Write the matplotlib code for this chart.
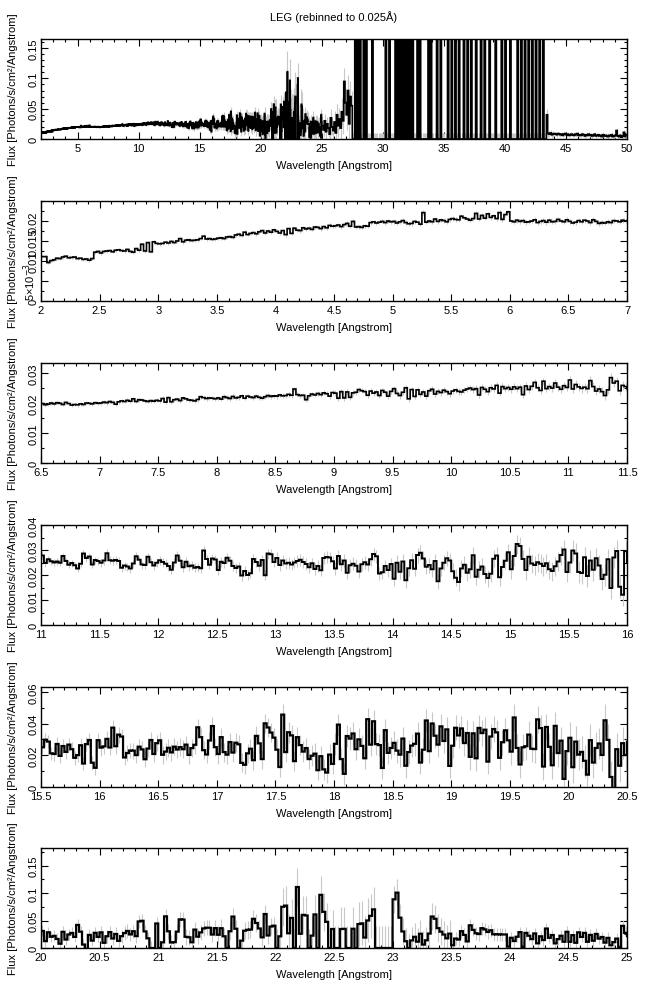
import numpy as np
import matplotlib
matplotlib.use('Agg')
import matplotlib.pyplot as plt
from matplotlib.ticker import MultipleLocator, FormatStrFormatter

plt.rcParams['font.family'] = ['Liberation Sans', 'DejaVu Sans']

# LEG flux, 0.025 A bins, units of 1e-3 photons/s/cm2/A
seg_a = [  # 2.0 - 6.5 A
    11.1, 11.1, 9.6, 10.1, 10.3, 10.7, 10.6, 11.0, 11.2, 10.8, 10.9, 11.0, 10.6, 10.7, 10.4, 10.5, 10.2, 10.6, 12.2, 12.4,
    12.0, 12.4, 12.5, 12.6, 12.3, 12.7, 12.8, 12.6, 12.5, 12.9, 12.4, 12.2, 13.1, 12.7, 14.2, 12.5, 14.6, 12.3, 14.8, 14.4,
    14.3, 14.4, 14.7, 14.5, 14.9, 14.6, 15.0, 15.6, 14.8, 15.2, 15.3, 15.1, 15.2, 15.3, 15.6, 16.2, 15.5, 15.6, 15.4, 15.5,
    15.7, 15.8, 15.6, 16.0, 16.1, 15.9, 16.5, 16.7, 16.4, 17.2, 16.6, 16.9, 17.1, 16.8, 17.3, 17.6, 17.0, 17.5, 17.2, 17.8,
    17.4, 17.0, 17.6, 16.6, 18.1, 16.9, 18.2, 17.7, 17.6, 18.3, 18.0, 18.2, 17.9, 18.5, 18.4, 18.1, 18.6, 18.3, 18.9, 18.7,
    18.8, 19.0, 18.6, 19.1, 19.4, 18.7, 19.9, 18.5, 18.6, 18.4, 18.8, 18.7, 19.6, 19.8, 19.5, 19.7, 19.9, 19.6, 20.0, 19.8,
    19.9, 19.5, 19.8, 20.1, 19.6, 19.3, 19.4, 19.9, 19.7, 19.2, 22.1, 19.7, 20.0, 19.8, 20.5, 19.9, 20.3, 20.1, 19.8, 20.4,
    20.6, 20.4, 20.3, 21.2, 20.8, 20.5, 20.2, 20.6, 21.9, 20.5, 21.4, 20.7, 21.8, 20.9, 21.3, 20.6, 22.1, 20.4, 21.6, 22.3,
    20.0, 19.8, 20.2, 19.9, 20.1, 19.7, 19.8, 20.0, 20.3, 19.6, 19.9, 20.1, 19.7, 20.2, 19.8, 19.9, 20.4, 20.0, 19.8, 20.3,
]
seg_b = [  # 6.5 - 11.0 A
    19.9, 19.5, 19.7, 20.1, 19.8, 20.2, 20.0, 19.6, 20.3, 19.9, 19.4, 19.6, 19.5, 19.8, 19.6, 20.1, 20.0, 19.8, 20.2, 20.0,
    20.1, 20.4, 20.2, 20.6, 20.3, 19.7, 20.5, 20.8, 20.6, 21.0, 20.7, 21.5, 20.6, 21.2, 21.1, 20.8, 20.6, 20.9, 20.7, 21.0,
    20.8, 21.6, 20.4, 21.9, 20.5, 21.2, 21.4, 20.9, 21.8, 21.5, 21.1, 21.0, 20.8, 21.3, 22.2, 21.9, 21.6, 21.8, 21.7, 21.5,
    21.8, 21.4, 22.2, 21.9, 21.6, 22.3, 21.8, 22.0, 22.5, 21.7, 22.4, 22.1, 21.9, 22.4, 22.0, 21.7, 22.2, 22.6, 22.3, 22.5,
    22.4, 22.8, 22.5, 22.6, 23.0, 22.7, 24.8, 22.9, 22.6, 22.7, 21.2, 22.5, 23.1, 22.8, 23.3, 22.9, 23.5, 23.2, 22.4, 23.6,
    23.4, 21.7, 23.9, 21.8, 23.8, 22.0, 23.5, 23.7, 24.6, 24.2, 23.9, 22.7, 24.1, 23.4, 23.8, 22.6, 24.3, 23.7, 22.4, 24.0,
    24.9, 23.3, 22.6, 23.7, 25.2, 21.5, 24.6, 22.3, 24.5, 23.0, 23.8, 22.4, 24.2, 24.7, 23.1, 24.0, 23.6, 24.4, 23.9, 23.2,
    24.1, 24.5, 24.0, 23.8, 24.4, 24.8, 25.1, 24.6, 24.9, 22.8, 25.3, 24.7, 23.9, 25.2, 24.8, 26.0, 23.4, 25.6, 24.9, 25.3,
    24.7, 25.5, 24.9, 25.4, 22.9, 25.8, 24.6, 25.7, 27.0, 25.2, 24.3, 27.4, 24.9, 25.6, 25.1, 26.8, 25.4, 24.7, 25.9, 25.3,
]
seg_c = [  # 11.0 - 15.5 A
    27.8, 24.8, 26.3, 25.5, 25.0, 25.4, 24.9, 27.6, 25.6, 24.1, 24.8, 23.9, 22.6, 24.5, 28.6, 26.8, 27.4, 24.2, 26.0, 25.6,
    24.9, 25.8, 28.7, 25.9, 25.7, 26.0, 25.6, 22.9, 23.8, 23.4, 22.6, 24.6, 27.5, 26.1, 24.2, 24.0, 27.3, 25.1, 23.8, 24.9,
    25.9, 25.2, 24.5, 23.6, 22.1, 25.0, 27.8, 25.7, 23.1, 25.3, 23.5, 23.8, 22.9, 23.2, 22.7, 29.8, 26.4, 24.1, 26.6, 26.2,
    22.0, 25.3, 24.8, 26.9, 25.7, 23.6, 22.8, 23.4, 19.8, 21.6, 20.0, 20.7, 26.4, 25.2, 23.7, 26.0, 19.9, 28.6, 28.3, 25.2,
    26.8, 24.0, 25.8, 24.6, 24.9, 24.2, 25.0, 25.6, 26.1, 25.2, 24.4, 23.1, 24.7, 22.4, 23.6, 21.9, 26.8, 27.2, 27.0, 25.5,
    22.6, 27.6, 24.3, 25.8, 20.9, 23.9, 24.5, 23.7, 21.4, 24.3, 25.1, 24.2, 26.3, 28.4, 27.5, 20.6, 21.1, 23.6, 22.0, 24.4,
    18.5, 24.9, 21.3, 25.4, 17.9, 22.7, 25.9, 22.5, 28.0, 28.9, 26.6, 23.3, 24.0, 22.3, 25.6, 17.5, 22.6, 24.9, 26.7, 25.8,
    21.5, 18.9, 17.2, 22.6, 24.1, 20.9, 22.3, 27.9, 19.3, 22.1, 23.4, 20.4, 18.8, 20.5, 26.5, 27.8, 19.1, 23.2, 25.7, 29.1,
    22.3, 27.6, 32.4, 31.6, 26.4, 22.0, 27.3, 24.6, 24.0, 25.1, 24.5, 23.6, 24.7, 22.3, 21.6, 23.5, 25.4, 28.0, 30.2, 21.2,
]
seg_d = [  # 15.5 - 20.0 A
    25.0, 29.8, 28.6, 21.2, 20.8, 27.1, 19.6, 25.8, 22.1, 26.7, 23.8, 18.4, 20.1, 26.3, 14.8, 27.0, 29.6, 15.3, 12.1, 29.5,
    24.8, 25.6, 30.3, 24.9, 37.4, 25.7, 33.0, 31.8, 18.6, 21.4, 23.0, 22.9, 20.1, 25.4, 23.7, 17.5, 24.2, 29.6, 20.8, 27.6,
    29.4, 20.3, 22.3, 24.7, 21.8, 25.4, 23.6, 25.1, 23.8, 26.7, 20.2, 24.5, 26.6, 37.6, 31.4, 23.2, 20.5, 29.3, 38.4, 25.1,
    20.8, 31.4, 22.0, 20.4, 28.3, 21.7, 27.9, 26.9, 15.2, 14.0, 21.2, 24.1, 16.9, 32.2, 27.5, 17.6, 40.1, 37.5, 34.3, 31.1,
    23.5, 12.6, 45.6, 22.0, 34.5, 32.5, 16.3, 31.4, 26.4, 22.3, 24.5, 17.6, 19.7, 21.0, 10.6, 19.4, 11.1, 9.1, 20.4, 14.6,
    27.2, 39.3, 17.6, 8.3, 32.1, 30.5, 33.7, 23.8, 30.0, 25.9, 18.1, 42.7, 26.7, 41.4, 27.0, 26.4, 12.0, 35.8, 21.5, 24.6,
    27.8, 22.9, 20.4, 30.5, 13.4, 22.0, 26.1, 27.2, 33.6, 15.4, 23.5, 41.9, 22.6, 40.0, 32.3, 26.7, 38.2, 29.0, 36.3, 13.3,
    26.0, 37.3, 32.5, 36.9, 27.7, 34.0, 19.0, 33.8, 18.1, 37.2, 34.0, 36.1, 16.0, 31.8, 36.5, 34.4, 18.4, 28.2, 35.7, 29.4,
    22.3, 43.8, 24.6, 14.2, 25.0, 25.7, 33.0, 24.1, 23.9, 42.6, 37.1, 12.9, 37.8, 25.3, 13.7, 38.5, 21.4, 29.2, 5.1, 22.6,
]
seg_e = [  # 20.0 - 25.0 A
    31.0, 12.5, 28.6, 20.4, 22.1, 16.5, 7.8, 29.5, 15.4, 24.6, 27.4, 20.2, 42.0, 29.7, 6.3, -2.5, 23.8, 13.4, 27.6, 20.1,
    28.5, 9.5, 21.4, 28.9, 17.3, 25.5, 13.0, 21.5, 27.2, 31.0, 24.7, 30.5, 21.6, 48.3, 49.5, 30.2, 17.6, 0.0, 0.0, 44.6,
    0.0, 10.3, 57.6, 30.4, 10.0, 10.6, 29.8, 52.1, 51.7, 20.3, 19.5, 10.4, 33.5, 20.6, 28.4, 35.6, 37.0, 36.8, 24.5, 36.2,
    24.1, 36.0, 21.3, 0.0, 30.5, 57.2, 35.0, 0.0, 13.4, 31.5, 33.2, 33.6, 53.1, 45.5, 35.5, 19.4, 61.8, 22.8, 39.0, 40.6,
    0.0, 21.3, 75.0, 77.2, 26.8, 54.7, 0.0, 111.0, 25.9, 60.3, 59.2, 0.0, 22.5, 61.1, 0.0, 96.7, 65.8, 47.6, 0.0, 34.6,
    0.0, 0.0, 34.5, 34.9, 0.0, 0.0, 35.0, 0.0, 43.6, 44.8, 19.0, 50.1, 58.5, 70.3, 0.0, 0.0, 0.0, 0.0, 0.0, 0.0,
    88.6, 100.7, 55.2, 30.1, 12.3, 0.0, 13.8, 20.4, 11.5, 25.9, 6.2, 14.0, 26.3, 57.3, 53.2, 36.1, 29.7, 24.5, 17.6, 26.1,
    5.0, 17.2, 15.4, 30.6, 23.8, 12.0, 41.3, 33.0, 26.8, 25.4, 36.1, 33.8, 29.2, 32.3, 25.0, 24.7, 25.0, 24.5, 24.7, 2.5,
    18.6, 12.7, 20.5, 28.9, 2.0, 27.5, 22.3, 16.2, 26.5, 8.5, 21.3, 14.5, 35.4, 18.5, 23.6, 8.4, 16.2, 22.3, 11.4, 29.5,
    11.3, 23.4, 9.5, 28.5, 20.2, 27.5, 11.3, 23.8, 13.2, 25.6, 17.1, 20.0, 9.8, 18.4, 5.0, 10.6, 17.1, 2.0, 40.3, 27.5,
]
# 25 - 50 A, only seen in the overview panel, 0.1 A steps (300 = off scale)
seg_long = [
    22, 15, 30, 12, 25, 18, 8, 35, 20, 14,
    28, 10, 40, 22, 33, 18, 45, 30, 95, 60,
    40, 80, 25, 70, 55,
    0, 0, 300, 0, 300, 0, 300, 0, 0, 300,
    0, 300, 0, 0, 0, 0, 300, 0, 0, 0,
    0, 0, 0, 0, 0, 0, 0, 300, 0, 0,
    300, 0, 0, 0, 0, 300, 0, 300, 0, 300,
    0, 300, 0, 300, 0, 300, 0, 300, 0, 300,
    0, 0, 0, 300, 0, 300, 0, 0, 0, 0,
    0, 0, 300, 0, 300, 0, 0, 0, 0, 300,
    0, 0, 300, 0, 0, 0, 0, 0, 300, 0,
    0, 300, 0, 0, 300, 0, 0, 300, 0, 0,
    0, 300, 0, 0, 300, 0, 0, 300, 0, 0,
    0, 300, 0, 0, 0, 300, 0, 0, 300, 0,
    0, 0, 300, 0, 0, 0, 0, 300, 0, 0,
    0, 0, 300, 0, 0, 300, 0, 0, 0, 300,
    0, 0, 0, 0, 0, 300, 0, 0, 300, 0,
    0, 300, 0, 0, 300, 0, 0, 300, 0, 0,
    300, 0, 0, 300, 0, 0, 300, 0, 0, 40,
    9, 8, 10, 7, 8, 9, 8, 7, 9, 8,
    7, 8, 6, 8, 9, 7, 8, 6, 7, 8,
    7, 6, 8, 7, 9, 6, 7, 6, 8, 7,
    5, 7, 6, 8, 6, 7, 5, 6, 8, 5,
    6, 7, 5, 6, 4, 7, 5, 6, 5, 4,
    6, 5, 7, 4, 5, 6, 14, 5, 4, 6,
    3, 5, 11, 4, 7,
]
# typical 1-sigma error per 0.5 A block from 2 to 50 A (1e-3 units)
err_block = [
    0.4, 0.4, 0.45, 0.45, 0.5, 0.5, 0.55, 0.55, 0.6, 0.6,
    0.65, 0.7, 0.75, 0.8, 0.9, 1.0, 1.1, 1.2, 1.4, 1.6,
    1.8, 2.0, 2.3, 2.6, 3.0, 3.4, 3.8, 4.3, 5.0, 5.5,
    6.0, 6.5, 7.0, 7.5, 8.0, 8.5, 10, 12, 14, 16,
    35, 40, 25, 12, 10, 10, 12, 14, 18, 22,
    25, 10, 10, 10, 10, 10, 10, 10, 10, 10,
    10, 10, 10, 10, 10, 10, 10, 10, 10, 10,
    10, 10, 10, 10, 10, 10, 10, 10, 10, 10,
    10, 10, 10, 5, 3, 3, 3, 3, 3, 3,
    3, 3, 4, 4, 4, 4,
]

flux = np.array(seg_a + seg_b + seg_c + seg_d + seg_e) * 1e-3
edges = 2.0 + 0.025 * np.arange(flux.size + 1)
flux_long = np.array(seg_long) * 1e-3
edges_long = 25.0 + 0.1 * np.arange(flux_long.size + 1)

all_flux = np.concatenate([flux, flux_long])
all_edges = np.concatenate([edges, edges_long[1:]])
centers = 0.5 * (all_edges[:-1] + all_edges[1:])
err = np.array(err_block)[((centers - 2.0) / 0.5).astype(int)] * 1e-3

# panel setup: x range, y max, x major/minor, y ticks, y minor, line width
panels = [
    ((2, 50), 0.165, 5, 1, [0, 0.05, 0.1, 0.15], 0.01, 1.2),
    ((2, 7), 0.025, 0.5, 0.1, [0, 0.005, 0.01, 0.015, 0.02], 0.0025, 1.2),
    ((6.5, 11.5), 0.0335, 0.5, 0.1, [0, 0.01, 0.02, 0.03], 0.005, 1.2),
    ((11, 16), 0.04, 0.5, 0.1, [0, 0.01, 0.02, 0.03, 0.04], 0.005, 1.4),
    ((15.5, 20.5), 0.063, 0.5, 0.1, [0, 0.02, 0.04, 0.06], 0.01, 1.6),
    ((20, 25), 0.182, 0.5, 0.1, [0, 0.05, 0.1, 0.15], 0.025, 1.6),
]
tops = [40, 202, 364, 526, 688, 849]

W, H = 647, 995
fig = plt.figure(figsize=(W / 100, H / 100), dpi=100)

for (xr, ymax, xmaj, xmin, yt, ymin, lw), top in zip(panels, tops):
    ax = fig.add_axes([41 / W, 1 - (top + 100) / H, 586 / W, 100 / H])
    ax.vlines(centers, all_flux - err, all_flux + err, colors='#c8c8c8', lw=0.8, zorder=2)
    ax.stairs(all_flux, all_edges, color='black', lw=lw, baseline=None, zorder=3)
    ax.set_xlim(*xr)
    ax.set_ylim(0, ymax)
    ax.xaxis.set_major_locator(MultipleLocator(xmaj))
    ax.xaxis.set_minor_locator(MultipleLocator(xmin))
    ax.xaxis.set_major_formatter(FormatStrFormatter('%g'))
    ax.yaxis.set_minor_locator(MultipleLocator(ymin))
    ax.set_yticks(yt)
    if xr == (2, 7):
        ylabels = ['0', '5×10$^{-3}$', '0.01', '0.015', '0.02']
    else:
        ylabels = ['%g' % v for v in yt]
    ax.set_yticklabels(ylabels, rotation=90, va='center')
    ax.tick_params(which='both', direction='in', top=True, right=True, width=0.8, labelsize=8)
    ax.tick_params(which='major', length=5)
    ax.tick_params(which='minor', length=2.5)
    ax.tick_params(axis='x', pad=3)
    ax.tick_params(axis='y', pad=2)
    for s in ax.spines.values():
        s.set_linewidth(1.0)
    ax.set_xlabel('Wavelength [Angstrom]', fontsize=8, labelpad=5)
    ax.set_ylabel('Flux [Photons/s/cm²/Angstrom]', fontsize=8)
    ax.yaxis.set_label_coords(-0.04, 0.5)

fig.text((41 + 293) / W, 1 - 17 / H, 'LEG (rebinned to 0.025Å)', ha='center', va='center', fontsize=8)

fig.savefig('out.png', dpi=100)
